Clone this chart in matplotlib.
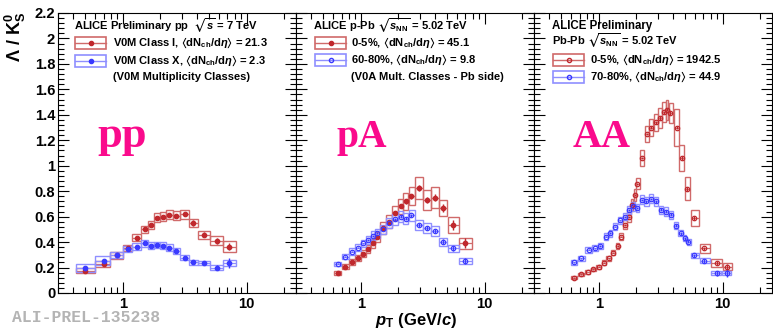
import numpy as np
import matplotlib
matplotlib.use("Agg")
import matplotlib.pyplot as plt
from matplotlib.patches import Rectangle
from matplotlib.lines import Line2D
from matplotlib.ticker import (FixedLocator, LogLocator, MultipleLocator,
                               NullFormatter, FuncFormatter)

plt.rcParams["font.family"] = ["Liberation Sans", "DejaVu Sans"]
plt.rcParams["font.weight"] = "bold"
plt.rcParams["mathtext.fontset"] = "custom"
plt.rcParams["mathtext.rm"] = "Liberation Sans:bold"
plt.rcParams["mathtext.it"] = "Liberation Sans:italic:bold"
plt.rcParams["mathtext.bf"] = "Liberation Sans:bold"
plt.rcParams["mathtext.fallback"] = "stixsans"

# pp 7 TeV, V0M class I (high mult) and class X (low mult)
pp_pt = [0.5, 0.7, 0.9, 1.1, 1.3, 1.5, 1.7, 1.9, 2.1, 2.35, 2.7, 3.15, 3.7, 4.5, 5.75, 7.25]
pp_hi = [0.176, 0.23, 0.295, 0.355, 0.435, 0.50, 0.535, 0.59, 0.60, 0.614, 0.608, 0.62, 0.55, 0.457, 0.41, 0.365]
pp_hi_stat = [0.008, 0.008, 0.006, 0.006, 0.006, 0.006, 0.006, 0.006, 0.008, 0.008, 0.01, 0.012, 0.02, 0.02, 0.025, 0.03]
pp_hi_sys = [0.02, 0.025, 0.025, 0.025, 0.03, 0.03, 0.03, 0.035, 0.035, 0.035, 0.035, 0.035, 0.035, 0.03, 0.035, 0.04]
pp_lo = [0.194, 0.254, 0.30, 0.346, 0.365, 0.39, 0.373, 0.378, 0.373, 0.357, 0.33, 0.278, 0.242, 0.236, 0.20, 0.234]
pp_lo_stat = [0.006, 0.006, 0.005, 0.005, 0.005, 0.005, 0.005, 0.005, 0.006, 0.006, 0.008, 0.008, 0.01, 0.012, 0.02, 0.04]
pp_lo_sys = [0.03, 0.035, 0.025, 0.025, 0.025, 0.025, 0.025, 0.025, 0.025, 0.025, 0.02, 0.02, 0.02, 0.015, 0.02, 0.025]

# p-Pb 5.02 TeV, 0-5% and 60-80%
pa_pt = [0.65, 0.75, 0.85, 0.95, 1.05, 1.15, 1.25, 1.35, 1.5, 1.7, 1.9, 2.1, 2.3, 2.55, 2.95, 3.45, 3.95, 4.6, 5.5, 7.0]
pa_hi = [0.155, 0.207, 0.242, 0.273, 0.31, 0.344, 0.39, 0.443, 0.51, 0.56, 0.63, 0.68, 0.72, 0.76, 0.825, 0.73, 0.75, 0.667, 0.535, 0.39]
pa_hi_stat = [0.004, 0.005, 0.006, 0.006, 0.007, 0.008, 0.009, 0.01, 0.01, 0.012, 0.014, 0.016, 0.018, 0.02, 0.022, 0.025, 0.03, 0.03, 0.04, 0.04]
pa_hi_sys = [0.015, 0.02, 0.022, 0.025, 0.028, 0.03, 0.035, 0.04, 0.045, 0.05, 0.055, 0.06, 0.065, 0.07, 0.085, 0.08, 0.08, 0.065, 0.06, 0.045]
pa_lo = [0.228, 0.286, 0.325, 0.357, 0.39, 0.417, 0.45, 0.47, 0.50, 0.55, 0.58, 0.60, 0.585, 0.61, 0.535, 0.51, 0.487, 0.404, 0.35, 0.25]
pa_lo_stat = [0.004, 0.005, 0.005, 0.006, 0.006, 0.007, 0.008, 0.008, 0.009, 0.01, 0.011, 0.012, 0.013, 0.014, 0.015, 0.016, 0.018, 0.02, 0.022, 0.025]
pa_lo_sys = [0.018, 0.022, 0.025, 0.027, 0.03, 0.032, 0.035, 0.036, 0.038, 0.042, 0.044, 0.045, 0.045, 0.046, 0.04, 0.038, 0.036, 0.032, 0.03, 0.025]

# Pb-Pb 5.02 TeV, 0-5%
aa_hi_pt = [0.63, 0.72, 0.82, 0.90, 1.0, 1.1, 1.2, 1.31, 1.42, 1.5, 1.63, 1.76, 1.87, 1.95, 2.05,
            2.25, 2.45, 2.65, 2.87, 3.12, 3.38, 3.55, 3.77, 4.24, 4.66, 5.18, 5.9, 7.1, 9.05, 10.9]
aa_hi = [0.12, 0.147, 0.165, 0.186, 0.207, 0.239, 0.273, 0.317, 0.37, 0.443, 0.535, 0.60, 0.69, 0.77, 0.86,
         1.06, 1.25, 1.30, 1.34, 1.375, 1.42, 1.44, 1.415, 1.30, 1.06, 0.82, 0.59, 0.35, 0.234, 0.207]
aa_hi_stat = [0.003, 0.003, 0.003, 0.003, 0.004, 0.004, 0.004, 0.005, 0.005, 0.006, 0.006, 0.007, 0.007, 0.008, 0.008,
              0.009, 0.01, 0.01, 0.01, 0.012, 0.012, 0.013, 0.014, 0.015, 0.015, 0.015, 0.015, 0.015, 0.015, 0.02]
aa_hi_sys = [0.01, 0.012, 0.013, 0.014, 0.015, 0.017, 0.019, 0.022, 0.025, 0.03, 0.035, 0.04, 0.045, 0.048, 0.046,
             0.06, 0.065, 0.066, 0.07, 0.08, 0.08, 0.08, 0.08, 0.145, 0.105, 0.09, 0.06, 0.037, 0.033, 0.03]

# Pb-Pb 5.02 TeV, 70-80%
aa_lo_pt = [0.63, 0.72, 0.83, 0.94, 1.03, 1.15, 1.24, 1.35, 1.48, 1.63, 1.76, 1.90, 2.05, 2.23,
            2.42, 2.65, 2.87, 3.18, 3.48, 3.82, 4.18, 4.58, 4.95, 5.27, 5.83, 7.13, 8.97, 10.8]
aa_lo = [0.242, 0.273, 0.339, 0.352, 0.37, 0.443, 0.47, 0.522, 0.57, 0.60, 0.654, 0.68, 0.667, 0.732,
         0.72, 0.74, 0.72, 0.654, 0.64, 0.614, 0.53, 0.47, 0.43, 0.404, 0.295, 0.255, 0.155, 0.155]
aa_lo_stat = [0.004, 0.004, 0.005, 0.005, 0.005, 0.006, 0.006, 0.006, 0.007, 0.007, 0.008, 0.008, 0.008, 0.009,
              0.009, 0.01, 0.01, 0.01, 0.01, 0.011, 0.011, 0.012, 0.012, 0.013, 0.014, 0.016, 0.02, 0.03]
aa_lo_sys = [0.02, 0.02, 0.022, 0.022, 0.024, 0.026, 0.027, 0.028, 0.03, 0.03, 0.032, 0.033, 0.033, 0.035,
             0.035, 0.035, 0.035, 0.033, 0.032, 0.03, 0.028, 0.026, 0.025, 0.024, 0.02, 0.018, 0.015, 0.015]

RED = "#c0282d"
RED_BOX = "#d06a6a"
BLUE = "#3a3aff"
BLUE_BOX = "#8f8fff"
PINK = "#fa0a8c"

W, H = 773, 333
LEG = 8.0


def box_edges(pt, frac):
    # boxes reach halfway (in log) to the neighbouring points
    lp = np.log10(pt)
    mid = (lp[1:] + lp[:-1]) / 2
    lo = np.concatenate([[2 * lp[0] - mid[0]], mid])
    hi = np.concatenate([mid, [2 * lp[-1] - mid[-1]]])
    return 10 ** (lp - (lp - lo) * frac), 10 ** (lp + (hi - lp) * frac)


def draw(ax, pt, val, stat, sys, color, boxc, filled, frac):
    pt, val, stat, sys = map(np.asarray, (pt, val, stat, sys))
    lo, hi = box_edges(pt, frac)
    ax.bar(lo, 2 * sys, width=hi - lo, bottom=val - sys, align="edge",
           fill=False, edgecolor=boxc, linewidth=1.0, zorder=2)
    ax.hlines(val, lo, hi, color=boxc, linewidth=0.9, zorder=2)
    ax.errorbar(pt, val, yerr=stat, fmt="o", ms=3.2, color=color,
                mfc=color if filled else "none", mec=color, mew=0.9,
                elinewidth=1.0, capsize=0, zorder=3)


def legend_entry(x0, yc, color, boxc, filled, label, tx, w=31, h=12):
    fy = 1 - yc / H
    fig.add_artist(Rectangle((x0 / W, 1 - (yc + h / 2) / H), w / W, h / H,
                             transform=fig.transFigure, fill=False, ec=boxc, lw=1.2))
    fig.add_artist(Line2D([x0 / W, (x0 + w) / W], [fy, fy], transform=fig.transFigure,
                          color=boxc, lw=1.0))
    fig.add_artist(Line2D([(x0 + w / 2) / W], [fy], transform=fig.transFigure,
                          marker="o", ms=3, color=color, mec=color,
                          mfc=color if filled else "none", ls="none"))
    fig.text(tx / W, fy, label, ha="left", va="center", fontsize=LEG)


fig = plt.figure(figsize=(W / 100, H / 100), dpi=100)
edges = [58, 296, 534, 772]
bottom, top = 293, 13
axes = []
for i in range(3):
    ax = fig.add_axes([edges[i] / W, 1 - bottom / H,
                       (edges[i + 1] - edges[i]) / W, (bottom - top) / H])
    ax.set_xscale("log")
    ax.set_xlim(0.3, 25)
    ax.set_ylim(0, 2.2)
    ax.xaxis.set_major_locator(FixedLocator([1, 10]))
    ax.xaxis.set_major_formatter(FuncFormatter(lambda v, p: f"{v:g}"))
    ax.xaxis.set_minor_locator(LogLocator(subs=np.arange(2, 10)))
    ax.xaxis.set_minor_formatter(NullFormatter())
    ax.yaxis.set_major_locator(MultipleLocator(0.2))
    ax.yaxis.set_minor_locator(MultipleLocator(0.04))
    ax.yaxis.set_major_formatter(FuncFormatter(lambda v, p: f"{v:g}"))
    ax.tick_params(which="both", direction="in", top=True, right=True, width=0.8)
    ax.tick_params(which="major", length=8, labelsize=10.6, pad=3)
    ax.tick_params(which="minor", length=4)
    ax.tick_params(axis="y", pad=2)
    if i > 0:
        ax.tick_params(labelleft=False)
    for s in ax.spines.values():
        s.set_linewidth(0.8)
    axes.append(ax)

draw(axes[0], pp_pt, pp_hi, pp_hi_stat, pp_hi_sys, RED, RED_BOX, True, 1.0)
draw(axes[0], pp_pt, pp_lo, pp_lo_stat, pp_lo_sys, BLUE, BLUE_BOX, True, 1.0)
draw(axes[1], pa_pt, pa_hi, pa_hi_stat, pa_hi_sys, RED, RED_BOX, True, 0.95)
draw(axes[1], pa_pt, pa_lo, pa_lo_stat, pa_lo_sys, BLUE, BLUE_BOX, False, 0.95)
draw(axes[2], aa_hi_pt, aa_hi, aa_hi_stat, aa_hi_sys, RED, RED_BOX, False, 0.9)
draw(axes[2], aa_lo_pt, aa_lo, aa_lo_stat, aa_lo_sys, BLUE, BLUE_BOX, False, 0.9)

dn = r"$\langle$dN$_{\rm ch}$/d$\eta\rangle$"

# pp legend
fig.text(74 / W, 1 - 26 / H, r"ALICE Preliminary pp  $\sqrt{s}$ = 7 TeV",
         ha="left", va="center", fontsize=LEG)
legend_entry(75, 43, RED, RED_BOX, True, "V0M Class I, " + dn + " = 21.3", 113)
legend_entry(75, 61, BLUE, BLUE_BOX, True, "V0M Class X, " + dn + " = 2.3", 113)
fig.text(113 / W, 1 - 77 / H, "(V0M Multiplicity Classes)", ha="left", va="center", fontsize=LEG)

# p-Pb legend
fig.text(313 / W, 1 - 26 / H, r"ALICE p-Pb $\sqrt{s_{\rm NN}}$ = 5.02 TeV",
         ha="left", va="center", fontsize=LEG)
legend_entry(315, 43, RED, RED_BOX, True, "0-5%, " + dn + " = 45.1", 351)
legend_entry(315, 60, BLUE, BLUE_BOX, False, "60-80%, " + dn + " = 9.8", 351)
fig.text(351 / W, 1 - 77 / H, "(V0A Mult. Classes - Pb side)", ha="left", va="center", fontsize=LEG)

# Pb-Pb legend
fig.text(552 / W, 1 - 26 / H, "ALICE Preliminary", ha="left", va="center", fontsize=LEG + 0.3)
fig.text(552 / W, 1 - 41 / H, r"Pb-Pb $\sqrt{s_{\rm NN}}$ = 5.02 TeV",
         ha="left", va="center", fontsize=LEG)
legend_entry(553, 60, RED, RED_BOX, False, "0-5%, " + dn + " = 1942.5", 590)
legend_entry(553, 77, BLUE, BLUE_BOX, False, "70-80%, " + dn + " = 44.9", 590)

# big system labels
for txt, xc, fs in [("pp", 122, 32), ("pA", 362, 28.5), ("AA", 602, 29)]:
    fig.text(xc / W, 1 - 147 / H, txt, ha="center", va="baseline", fontsize=fs,
             color=PINK, family="Liberation Serif", weight="bold")

fig.text(15 / W, 1 - 12 / H, r"$\Lambda$ / K$^{0}_{\rm S}$", rotation=90,
         ha="center", va="top", fontsize=13)
fig.text(416 / W, 1 - 320 / H, r"$p_{\rm T}$ (GeV/$c$)", ha="center", va="center", fontsize=12)
fig.text(12 / W, 1 - 318 / H, "ALI-PREL-135238", ha="left", va="center",
         fontsize=11.8, family="Liberation Mono", color="#b4b4b4")

fig.savefig("out.png", dpi=100)
